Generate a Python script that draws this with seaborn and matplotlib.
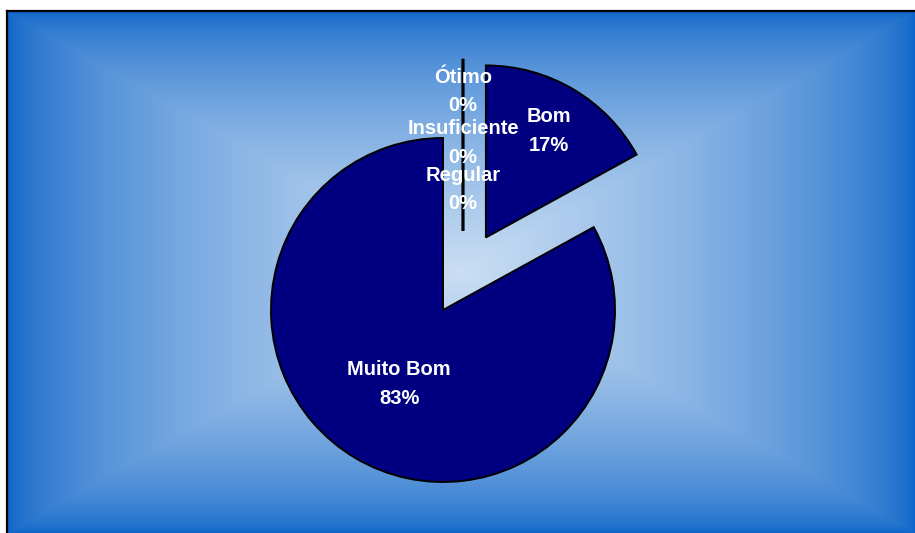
import numpy as np
import matplotlib
matplotlib.use("Agg")
import matplotlib.pyplot as plt
import seaborn as sns

# Data
categories = ["Ótimo", "Bom", "Muito Bom", "Regular", "Insuficiente"]
values = [0, 17, 83, 0, 0]
pct_labels = ["0%", "17%", "83%", "0%", "0%"]

# Style
sns.set_theme(style="white")
plt.rcParams["font.family"] = ["Liberation Sans", "DejaVu Sans"]

explode = [0.46, 0.49, 0.0, 0.46, 0.46]   # fraction of the radius
label_dist = [0.81, 0.72, 0.50, 0.24, 0.51]
zero_shift = 20  # Excel nudges the empty slices a little to the right

W, H = 915, 533
fig = plt.figure(figsize=(W / 100, H / 100), dpi=100)
fig.patch.set_facecolor("white")

# Background: rectangular gradient, light in the centre, blue at the edges
ax_bg = fig.add_axes([7 / W, 0, 908 / W, 522 / H])
ny, nx = 522, 908
yy, xx = np.mgrid[0:ny, 0:nx]
t = np.maximum(np.abs(xx - nx / 2) / (nx / 2), np.abs(yy - ny / 2) / (ny / 2))
edge = np.array([10, 98, 200]) / 255
centre = np.array([202, 222, 243]) / 255
k = (1 - t) ** 0.6
img = edge + (centre - edge) * k[..., None]
ax_bg.imshow(img, aspect="auto", interpolation="bilinear")
ax_bg.set_xticks([])
ax_bg.set_yticks([])
for s in ax_bg.spines.values():
    s.set_color("black")
    s.set_linewidth(1.6)
ax_bg.spines["right"].set_visible(False)
ax_bg.spines["bottom"].set_visible(False)

# Pie in pixel coordinates
ax = fig.add_axes([0, 0, 1, 1])
ax.axis("off")

cx, cy, r = 443, H - 310, 172
wedges, _ = ax.pie(values, explode=[e * r for e in explode],
                   colors=["#000080"] * len(values),
                   startangle=90, counterclock=False, center=(cx, cy), radius=r,
                   normalize=True,
                   wedgeprops=dict(edgecolor="black", linewidth=1.4))
ax.set_xlim(0, W)
ax.set_ylim(0, H)
ax.set_aspect("equal")

for w, v in zip(wedges, values):
    if v == 0:
        x0, y0 = w.center
        w.set_center((x0 + zero_shift, y0))
        w.set_linewidth(1.8)

for w, cat, pct, d in zip(wedges, categories, pct_labels, label_dist):
    mid = np.deg2rad((w.theta1 + w.theta2) / 2)
    x0, y0 = w.center
    lx = x0 + d * w.r * np.cos(mid)
    ly = y0 + d * w.r * np.sin(mid)
    ax.text(lx, ly, f"{cat}\n{pct}", ha="center", va="center", color="white",
            fontsize=14.5, fontweight="bold", linespacing=1.65, zorder=5)

fig.savefig("out.png", dpi=100)
